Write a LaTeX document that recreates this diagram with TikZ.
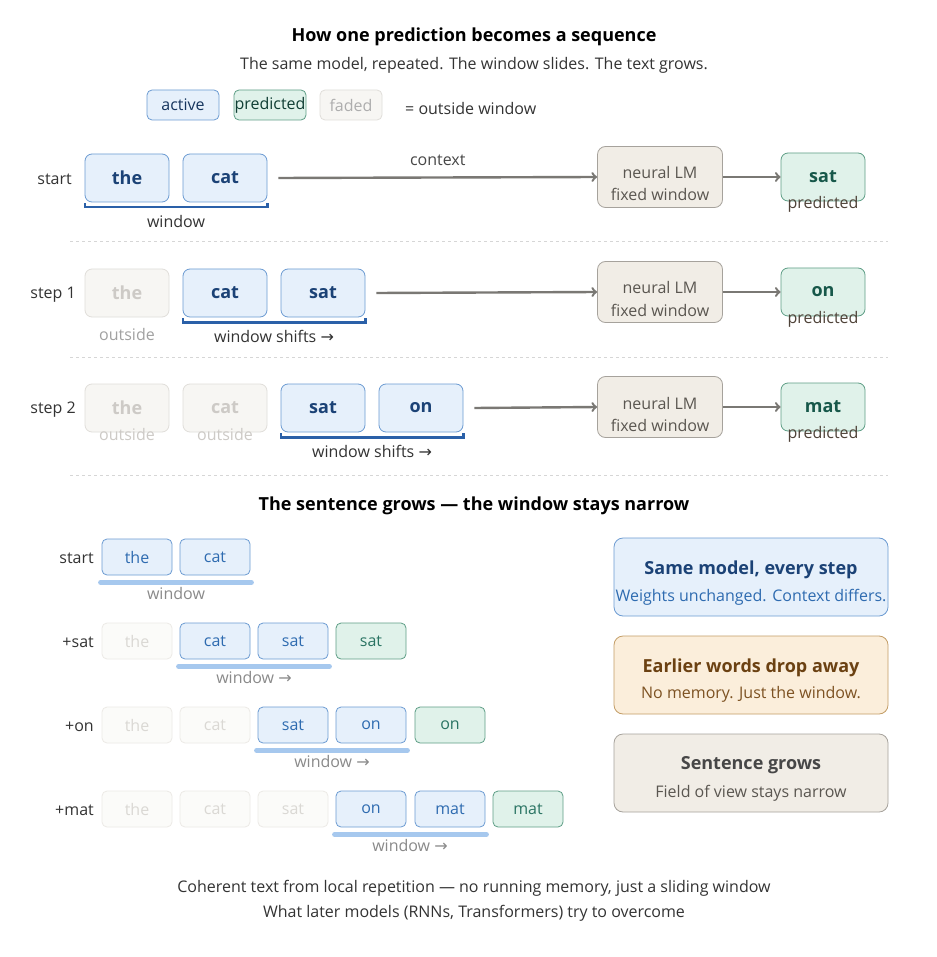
\documentclass[tikz,border=0pt]{standalone}
\usepackage{fontspec}
\setmainfont{Open Sans}
\newfontfamily\arrowfont{DejaVu Sans}
\usetikzlibrary{arrows}

\definecolor{actfill}{HTML}{E6F0FB}
\definecolor{actline}{HTML}{6C9BD2}
\definecolor{actdark}{HTML}{1B4276}
\definecolor{chipblue}{HTML}{2E6BB0}
\definecolor{predfill}{HTML}{E0F2EA}
\definecolor{predline}{HTML}{5E9E86}
\definecolor{preddark}{HTML}{17584A}
\definecolor{chipgreen}{HTML}{2A7463}
\definecolor{fadefill}{HTML}{F7F6F3}
\definecolor{fadeline}{HTML}{E0DEDA}
\definecolor{fadetext}{HTML}{CDCAC6}
\definecolor{fadefillb}{HTML}{FBFBF9}
\definecolor{fadelineb}{HTML}{ECEAE6}
\definecolor{fadetextb}{HTML}{DAD8D4}
\definecolor{lmfill}{HTML}{F1EDE6}
\definecolor{lmline}{HTML}{A6A29C}
\definecolor{lmtext}{HTML}{5A5650}
\definecolor{predlbl}{HTML}{4E4238}
\definecolor{arrowgray}{HTML}{7A7874}
\definecolor{brkblue}{HTML}{2A60A8}
\definecolor{underblue}{HTML}{A6C8EE}
\definecolor{txtdark}{HTML}{333333}
\definecolor{txtgray}{HTML}{8A8A8A}
\definecolor{sepgray}{HTML}{D6D6D6}
\definecolor{warnfill}{HTML}{FBEEDB}
\definecolor{warnline}{HTML}{C39D66}
\definecolor{warndark}{HTML}{6B4112}
\definecolor{warntext}{HTML}{7D5222}

\tikzstyle{tok}=[draw, rounded corners=7pt, minimum width=84pt, minimum height=48pt, inner sep=0pt, line width=0.8pt, font=\fontsize{18}{21}\selectfont\bfseries]
\tikzstyle{acttok}=[tok, fill=actfill, draw=actline, text=actdark]
\tikzstyle{fadetok}=[tok, fill=fadefill, draw=fadeline, text=fadetext]
\tikzstyle{predtok}=[tok, fill=predfill, draw=predline, text=preddark]
\tikzstyle{lmbox}=[draw=lmline, fill=lmfill, rounded corners=8pt, minimum width=125pt, minimum height=61pt, line width=0.8pt]
\tikzstyle{lmtxt}=[align=center, text=lmtext, inner sep=0pt, font=\fontsize{16}{22}\selectfont]
\tikzstyle{chip}=[draw, rounded corners=5pt, minimum width=70pt, minimum height=36pt, inner sep=0pt, line width=0.8pt, font=\fontsize{16}{18}\selectfont]
\tikzstyle{actchip}=[chip, fill=actfill, draw=actline, text=chipblue]
\tikzstyle{fadechip}=[chip, fill=fadefillb, draw=fadelineb, text=fadetextb]
\tikzstyle{predchip}=[chip, fill=predfill, draw=predline, text=chipgreen]
\tikzstyle{infobox}=[draw, rounded corners=9pt, minimum width=274pt, minimum height=78pt, line width=0.8pt]
\tikzstyle{edge}=[draw, line width=2.4pt, ->, arrowgray]
\tikzstyle{bracket}=[draw=brkblue, line width=2.2pt]
\tikzstyle{under}=[draw=underblue, line width=5pt, line cap=round]
\tikzstyle{txt}=[font=\fontsize{16}{18}\selectfont, text=txtdark, inner sep=0pt, yshift=-1.5pt]
\tikzstyle{headtxt}=[txt, font=\fontsize{18}{21}\selectfont\bfseries]
\tikzstyle{graytxt}=[txt, text=txtgray]
\tikzstyle{sep}=[draw=sepgray, line width=1pt, dashed]

\begin{document}
\begin{tikzpicture}[x=1pt, y=-1pt]

    \useasboundingbox[fill=white] (0,0) rectangle (936,957);

    % heading and legend
    \node[headtxt, text=black] (title) at (474,35) {How one prediction becomes a sequence};
    \node[txt] (subtitle) at (474,64) {The same model, repeated. The window slides. The text grows.};

    \node[chip, minimum width=72pt, minimum height=30pt, fill=actfill, draw=actline, text=actdark!80!black] (legact) at (183,105) {active};
    \node[chip, minimum width=72pt, minimum height=30pt, fill=predfill, draw=predline, text=preddark!70!black] (legpred) at (270,105) {predicted};
    \node[chip, minimum width=62pt, minimum height=30pt, fill=fadefill, draw=fadeline, text=txtgray!70] (legfade) at (351,105) {faded};
    \node[txt, anchor=west] (legnote) at (405,107) {= outside window};

    % start row
    \node[txt, anchor=east] (r0) at (72,178) {start};
    \foreach \x/\name/\word in {127/s0a/the, 225/s0b/cat}
        \node[acttok] (\name) at (\x,178) {\word};
    \node[lmbox] (lm0) at (660,177) {};
    \node[lmtxt] (lm0t) at (660,184) {neural LM\\fixed window};
    \node[predtok] (p0) at (823,177) {sat};
    \path[edge] ([xshift=11pt]s0b.east) -- node[txt, text=txtdark!90, above=12pt] (ctx) {context} (lm0.west);
    \path[edge] (lm0) -- (p0);
    \draw[bracket] ([yshift=-1pt]s0a.south west) -- ([yshift=-5pt]s0a.south west) -- ([yshift=-5pt]s0b.south east) -- ([yshift=-1pt]s0b.south east);
    \node[txt] (w0) at (176,220) {window};
    \node[txt, text=predlbl] (pl0) at (823,203) {predicted};

    \draw[sep] (70,242) -- (888,242);

    % step 1
    \node[txt, anchor=east] (r1) at (76,293) {step 1};
    \node[fadetok] (s1a) at (127,293) {the};
    \foreach \x/\name/\word in {225/s1b/cat, 323/s1c/sat}
        \node[acttok] (\name) at (\x,293) {\word};
    \node[lmbox] (lm1) at (660,292) {};
    \node[lmtxt] (lm1t) at (660,299) {neural LM\\fixed window};
    \node[predtok] (p1) at (823,292) {on};
    \path[edge] ([xshift=11pt]s1c.east) -- (lm1.west);
    \path[edge] (lm1) -- (p1);
    \draw[bracket] ([yshift=-1pt]s1b.south west) -- ([yshift=-5pt]s1b.south west) -- ([yshift=-5pt]s1c.south east) -- ([yshift=-1pt]s1c.south east);
    \node[txt] (w1) at (274,335) {window shifts {\arrowfont →}};
    \node[graytxt, text=txtgray!80] (o1) at (127,333) {outside};
    \node[txt, text=predlbl] (pl1) at (823,318) {predicted};

    \draw[sep] (70,357) -- (888,357);

    % step 2
    \node[txt, anchor=east] (r2) at (76,408) {step 2};
    \foreach \x/\name/\word in {127/s2a/the, 225/s2b/cat}
        \node[fadetok] (\name) at (\x,408) {\word};
    \foreach \x/\name/\word in {323/s2c/sat, 421/s2d/on}
        \node[acttok] (\name) at (\x,408) {\word};
    \node[lmbox] (lm2) at (660,407) {};
    \node[lmtxt] (lm2t) at (660,414) {neural LM\\fixed window};
    \node[predtok] (p2) at (823,407) {mat};
    \path[edge] ([xshift=11pt]s2d.east) -- (lm2.west);
    \path[edge] (lm2) -- (p2);
    \draw[bracket] ([yshift=-1pt]s2c.south west) -- ([yshift=-5pt]s2c.south west) -- ([yshift=-5pt]s2d.south east) -- ([yshift=-1pt]s2d.south east);
    \node[txt] (w2) at (372,450) {window shifts {\arrowfont →}};
    \foreach \x/\name in {127/o2a, 225/o2b}
        \node[graytxt, text=fadetext] (\name) at (\x,433) {outside};
    \node[txt, text=predlbl] (pl2) at (823,433) {predicted};

    \draw[sep] (70,475) -- (888,475);

    % growing sentence
    \node[headtxt, text=black] (title2) at (474,504) {The sentence grows — the window stays narrow};

    \node[txt, anchor=east] (g0) at (94,557) {start};
    \foreach \x/\name/\word in {137/g0a/the, 215/g0b/cat}
        \node[actchip] (\name) at (\x,557) {\word};
    \draw[under] ([xshift=-1pt,yshift=-7pt]g0a.south west) -- ([xshift=1pt,yshift=-7pt]g0b.south east);
    \node[graytxt] (gw0) at (176,592) {window};

    \node[txt, anchor=east] (g1) at (94,641) {+sat};
    \node[fadechip] (g1a) at (137,641) {the};
    \foreach \x/\name/\word in {215/g1b/cat, 293/g1c/sat}
        \node[actchip] (\name) at (\x,641) {\word};
    \node[predchip] (g1p) at (371,641) {sat};
    \draw[under] ([xshift=-1pt,yshift=-7pt]g1b.south west) -- ([xshift=1pt,yshift=-7pt]g1c.south east);
    \node[graytxt] (gw1) at (254,676) {window {\arrowfont →}};

    \node[txt, anchor=east] (g2) at (94,725) {+on};
    \foreach \x/\name/\word in {137/g2a/the, 215/g2b/cat}
        \node[fadechip] (\name) at (\x,725) {\word};
    \foreach \x/\name/\word in {293/g2c/sat, 371/g2d/on}
        \node[actchip] (\name) at (\x,725) {\word};
    \node[predchip] (g2p) at (450,725) {on};
    \draw[under] ([xshift=-1pt,yshift=-7pt]g2c.south west) -- ([xshift=1pt,yshift=-7pt]g2d.south east);
    \node[graytxt] (gw2) at (332,760) {window {\arrowfont →}};

    \node[txt, anchor=east] (g3) at (94,809) {+mat};
    \foreach \x/\name/\word in {137/g3a/the, 215/g3b/cat, 293/g3c/sat}
        \node[fadechip] (\name) at (\x,809) {\word};
    \foreach \x/\name/\word in {371/g3d/on, 450/g3e/mat}
        \node[actchip] (\name) at (\x,809) {\word};
    \node[predchip] (g3p) at (528,809) {mat};
    \draw[under] ([xshift=-1pt,yshift=-7pt]g3d.south west) -- ([xshift=1pt,yshift=-7pt]g3e.south east);
    \node[graytxt] (gw3) at (410,844) {window {\arrowfont →}};

    % side notes
    \node[infobox, fill=actfill, draw=actline] (n1) at (751,577) {};
    \node[headtxt, text=actdark] (n1t) at (751,568) {Same model, every step};
    \node[txt, text=chipblue] (n1s) at (751,596) {Weights unchanged. Context differs.};

    \node[infobox, fill=warnfill, draw=warnline] (n2) at (751,675) {};
    \node[headtxt, text=warndark] (n2t) at (751,666) {Earlier words drop away};
    \node[txt, text=warntext] (n2s) at (751,693) {No memory. Just the window.};

    \node[infobox, fill=lmfill, draw=lmline] (n3) at (751,773) {};
    \node[headtxt, text=txtdark!90] (n3t) at (751,764) {Sentence grows};
    \node[txt, text=lmtext] (n3s) at (751,792) {Field of view stays narrow};

    % footer
    \node[txt] (f1) at (474,887) {Coherent text from local repetition — no running memory, just a sliding window};
    \node[txt] (f2) at (474,912) {What later models (RNNs, Transformers) try to overcome};

\end{tikzpicture}
\end{document}
